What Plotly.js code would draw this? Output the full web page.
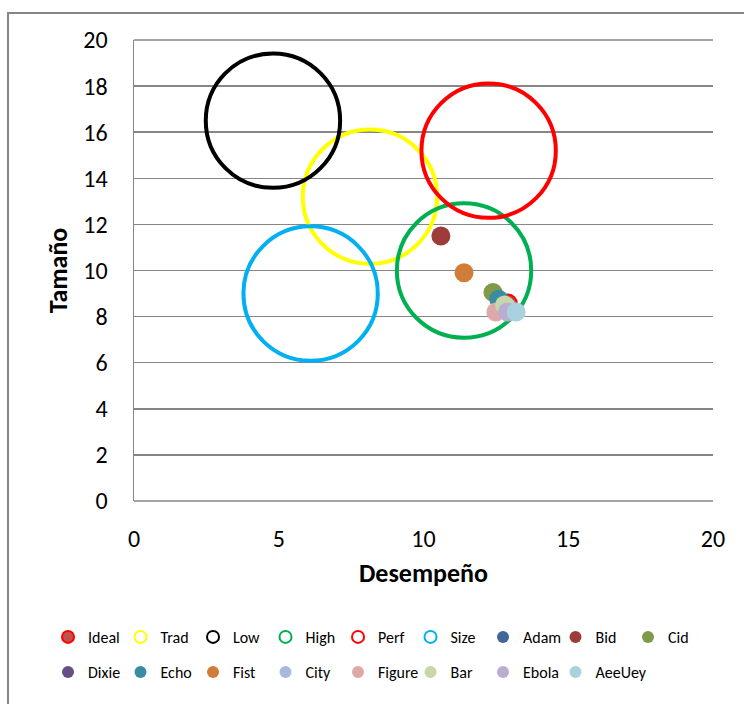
<!DOCTYPE html>
<html>
<head>
<meta charset="utf-8">
<script src="https://cdn.plot.ly/plotly-3.0.1.min.js"></script>
<style>
html,body{margin:0;padding:0;background:#fff;}
#frame{position:absolute;left:7px;top:12px;width:800px;height:800px;border:2px solid #868686;box-sizing:border-box;}
#chart{position:absolute;left:0;top:0;width:744px;height:704px;}
</style>
</head>
<body>
<div id="frame"></div>
<div id="chart"></div>
<script>
// Series names (legend order)
const seriesNames = ["Ideal","Trad","Low","High","Perf","Size","Adam","Bid","Cid","Dixie","Echo","Fist","City","Figure","Bar","Ebola","AeeUey"];
// Desempeño (x)
const desempeno = [12.9, 8.15, 4.8, 11.4, 12.25, 6.1, 12.7, 10.6, 12.4, 12.8, 12.6, 11.4, 12.9, 12.5, 12.8, 12.9, 13.2];
// Tamaño (y)
const tamano = [8.55, 13.2, 16.5, 10.0, 15.2, 9.0, 8.6, 11.5, 9.05, 8.5, 8.75, 9.9, 8.4, 8.2, 8.5, 8.2, 8.2];
// Bubble sizes
const bubbleSize = [1, 50, 50, 50, 50, 50, 1, 1, 1, 1, 1, 1, 1, 1, 1, 1, 1];

const fillColors = ["#C0504D","rgba(0,0,0,0)","rgba(0,0,0,0)","rgba(0,0,0,0)","rgba(0,0,0,0)","rgba(0,0,0,0)",
  "#3F6797","#9C3D3A","#7F9A48","#664F84","#3B8BA3","#D07E37","#A7B9DC","#DDA9A8","#C6D7A8","#B9AECF","#A9D1DE"];
const lineColors = ["#FF0000","#FFFF00","#000000","#00B050","#FF0000","#00B0F0",
  null,null,null,null,null,null,null,null,null,null,null];

const sizeref = 2/361;
const traces = seriesNames.map((name,i)=>{
  const lc = lineColors[i];
  return {
    type:'scatter', mode:'markers', name:name,
    legend: i < 9 ? 'legend' : 'legend2',
    x:[desempeno[i]], y:[tamano[i]],
    marker:{
      size:[bubbleSize[i]], sizemode:'area', sizeref:sizeref, opacity:1,
      color:fillColors[i],
      line: lc ? {color:lc, width: (i===0?2:4)} : {width:0}
    },
    hoverinfo:'name+x+y'
  };
});
// blank spacer entry so the last legend label is not clipped
traces.push({type:'scatter', mode:'markers', name:' ', legend:'legend2', x:[null], y:[null],
  marker:{color:'rgba(0,0,0,0)', size:1}, hoverinfo:'skip'});

const font = "Carlito, Calibri, Lato, 'Open Sans', sans-serif";
const legendCommon = {
  orientation:'h', xanchor:'left', yanchor:'middle',
  font:{size:16, family:font}, itemsizing:'constant',
  entrywidth:27.5, entrywidthmode:'pixels',
  bgcolor:'rgba(0,0,0,0)', itemclick:false
};
const layout = {
  width:744, height:704,
  margin:{l:134, r:31, t:40, b:203},
  paper_bgcolor:'rgba(0,0,0,0)',
  plot_bgcolor:'#fff',
  showlegend:true,
  font:{family:font, color:'#000'},
  xaxis:{
    range:[0,20], tickvals:[0,5,10,15,20], showgrid:false, zeroline:false,
    showline:false, ticks:'outside', ticklen:16, tickcolor:'rgba(0,0,0,0)',
    tickfont:{size:24, family:font},
    title:{text:'<b>Desempeño</b>', font:{size:26, family:font}, standoff:12}
  },
  yaxis:{
    range:[0,20], dtick:2, showgrid:true, gridcolor:'#868686', gridwidth:1.5,
    zeroline:false, showline:true, linecolor:'#868686', linewidth:1.5,
    ticks:'outside', ticklen:20, tickcolor:'rgba(0,0,0,0)',
    tickfont:{size:24, family:font},
    title:{text:'<b>Tamaño</b>', font:{size:26, family:font}, standoff:8}
  },
  shapes:[
    {type:'line', xref:'paper', yref:'paper', x0:0, x1:1, y0:0, y1:0, line:{color:'#868686', width:1.5}},
    {type:'line', xref:'paper', yref:'paper', x0:0, x1:1, y0:1, y1:1, line:{color:'#868686', width:1.5}}
  ],
  legend: Object.assign({}, legendCommon, {x:-0.1485, y:-0.295}),
  legend2: Object.assign({}, legendCommon, {x:-0.1485, y:-0.371})
};
Plotly.newPlot('chart', traces, layout, {displayModeBar:false, staticPlot:true});
</script>
</body>
</html>
